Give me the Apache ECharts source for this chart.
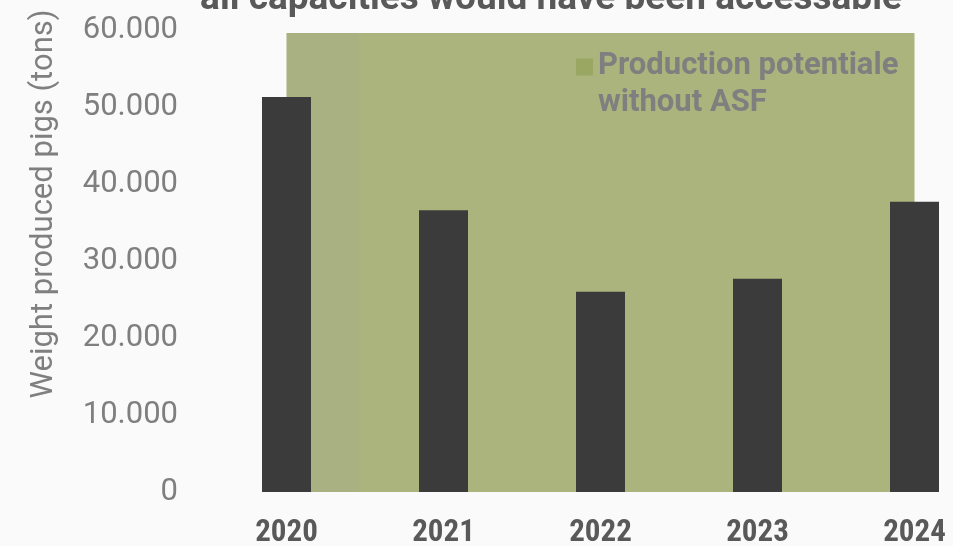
<!DOCTYPE html>
<html>
<head>
<meta charset="utf-8">
<script src="https://cdn.jsdelivr.net/npm/echarts@6/dist/echarts.min.js"></script>
<style>
  html, body { margin: 0; padding: 0; background: #fafafa; }
  #chart { width: 953px; height: 546px; }
</style>
</head>
<body>
<div id="chart"></div>
<script>
const years = ['2020', '2021', '2022', '2023', '2024'];
const producedTons = [51300, 36600, 26000, 27700, 37700];
const potentialTons = [59600, 59600, 59600, 59600, 59600];
const yTicks = [0, 10000, 20000, 30000, 40000, 50000, 60000];

let chartDom = document.getElementById('chart');
let myChart = echarts.init(chartDom);

function dotThousands(v) {
    return String(v).replace(/\B(?=(\d{3})+(?!\d))/g, '.');
}

let option = {
    animation: false,
    backgroundColor: '#fafafa',
    textStyle: {
        fontFamily: 'Roboto'
    },
    title: {
        text: 'all capacities would have been accessable',
        left: 546,
        textAlign: 'center',
        top: -24,
        textStyle: {
            fontSize: 37,
            fontWeight: 'bold',
            color: '#595959',
            fontFamily: 'Roboto'
        }
    },
    grid: {
        top: 30,
        bottom: 54,
        left: 208,
        right: -40,
        containLabel: false,
        outerBoundsMode: 'none'
    },
    legend: {
        data: ['Production potentiale without ASF'],
        left: 571,
        top: 43,
        icon: 'path://M0,0L0,0M0,9.5L17,9.5L17,26.5L0,26.5ZM0,72L0,72',
        itemWidth: 17,
        itemHeight: 72,
        formatter: function () {
            return 'Production potentiale\nwithout ASF';
        },
        textStyle: {
            fontSize: 31,
            fontWeight: 'bold',
            color: '#7f7f7f',
            lineHeight: 37
        }
    },
    xAxis: {
        type: 'category',
        data: years,
        axisLine: { show: false },
        axisTick: { show: false },
        axisLabel: {
            margin: 26,
            fontSize: 31,
            fontWeight: 'bold',
            color: '#595959',
            fontFamily: "'Roboto Condensed', 'DejaVu Sans Condensed', 'Liberation Sans Narrow', Roboto"
        }
    },
    yAxis: {
        type: 'value',
        min: yTicks[0],
        max: yTicks[yTicks.length - 1],
        interval: 10000,
        name: 'Weight produced pigs (tons)',
        nameLocation: 'middle',
        nameGap: 148,
        nameTextStyle: {
            fontSize: 31,
            color: '#7f7f7f',
            padding: [0, 0, 0, 114]
        },
        splitLine: { show: false },
        axisLine: { show: false },
        axisTick: { show: false },
        axisLabel: {
            margin: 30,
            fontSize: 31,
            color: '#7f7f7f',
            formatter: dotThousands
        }
    },
    series: [{
        name: 'Production potentiale without ASF',
        type: 'line',
        data: potentialTons,
        symbol: 'none',
        z: 1,
        itemStyle: { color: '#9aa762' },
        lineStyle: { width: 0 },
        areaStyle: {
            opacity: 1,
            color: new echarts.graphic.LinearGradient(0, 0, 1, 0, [
                { offset: 0, color: '#a9b081' },
                { offset: 0.115, color: '#a9b081' },
                { offset: 0.116, color: '#aab47c' },
                { offset: 1, color: '#aab47c' }
            ])
        }
    }, {
        name: 'Produced',
        type: 'bar',
        data: producedTons,
        barWidth: 49,
        z: 3,
        itemStyle: { color: '#3b3b3b' }
    }]
};
option && myChart.setOption(option);
</script>
</body>
</html>
